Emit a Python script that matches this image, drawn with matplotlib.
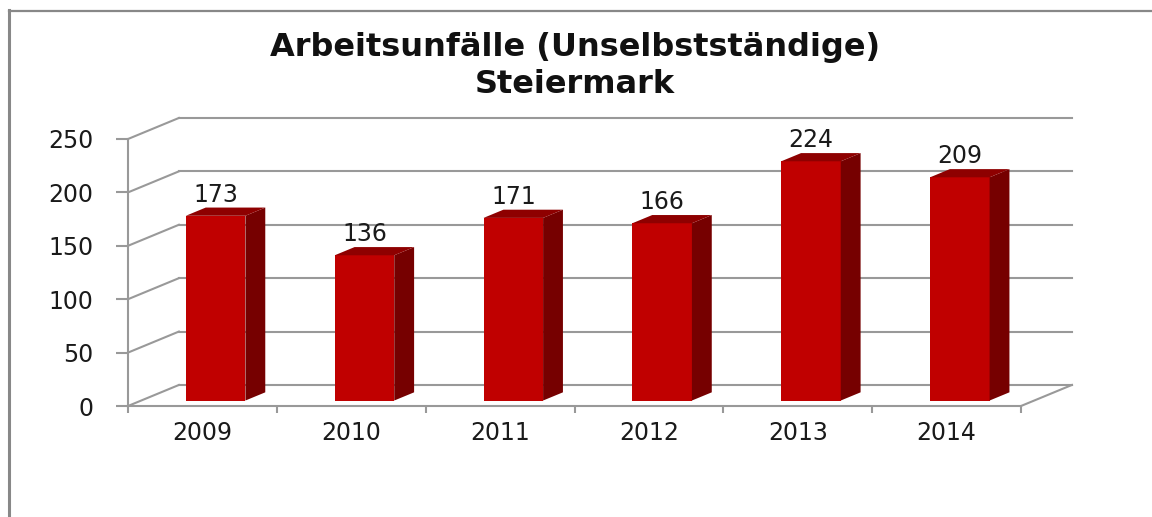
import matplotlib.pyplot as plt
from matplotlib.patches import Polygon
from matplotlib.lines import Line2D

years = ["2009", "2010", "2011", "2012", "2013", "2014"]
values = [173, 136, 171, 166, 224, 209]
yticks = [0, 50, 100, 150, 200, 250]
title = "Arbeitsunfälle (Unselbstständige)\nSteiermark"

# pseudo 3d: depth offset in data units (categories / value)
dx, dy = 0.342, 19.7
t0, t1 = 0.26, 0.65      # bar front / back depth fraction
bw = 0.4

grid_col = "#999999"
front_col = "#C00000"
side_col = "#760000"
top_col = "#8E0000"
txt_col = "#1a1a1a"

W, H = 1152, 517
fig = plt.figure(figsize=(W / 100, H / 100), dpi=100)
ax = fig.add_axes([128 / W, 111 / H, 893 / W, 267 / H])
ax.set_xlim(0, len(years))
ax.set_ylim(0, 250)
ax.patch.set_visible(False)

# walls / floor
n = len(years)
for v in yticks:
    ax.plot([dx, n + dx], [v + dy, v + dy], color=grid_col, lw=1.5, clip_on=False, zorder=1)
    ax.plot([0, dx], [v, v + dy], color=grid_col, lw=1.5, clip_on=False, zorder=1)
ax.plot([n, n + dx], [0, dy], color=grid_col, lw=1.5, clip_on=False, zorder=1)

# bars
xs = [i + 0.5 + t0 * dx for i in range(n)]
ax.bar(xs, values, width=bw, bottom=t0 * dy, color=front_col, zorder=3, clip_on=False)
for x, v in zip(xs, values):
    x0, x1 = x - bw / 2, x + bw / 2
    sx = (t1 - t0) * dx
    sy = (t1 - t0) * dy
    b = t0 * dy
    side = [(x1, b), (x1 + sx, b + sy), (x1 + sx, b + sy + v), (x1, b + v)]
    top = [(x0, b + v), (x1, b + v), (x1 + sx, b + sy + v), (x0 + sx, b + sy + v)]
    ax.add_patch(Polygon(side, closed=True, fc=side_col, ec="none", zorder=3, clip_on=False))
    ax.add_patch(Polygon(top, closed=True, fc=top_col, ec="none", zorder=3, clip_on=False))
    ax.annotate(str(v), (x, v + t1 * dy), xytext=(0, 0.5), textcoords="offset points",
                ha="center", va="bottom", fontsize=17, color=txt_col,
                family="DejaVu Sans", annotation_clip=False)

# axes
for s in ["top", "right"]:
    ax.spines[s].set_visible(False)
for s in ["left", "bottom"]:
    ax.spines[s].set_color(grid_col)
    ax.spines[s].set_linewidth(1.5)
ax.set_yticks(yticks)
ax.tick_params(axis="y", length=9, width=1.5, color=grid_col, pad=16,
               labelsize=17, labelcolor=txt_col)
ax.set_xticks(range(n + 1))
ax.set_xticklabels([])
ax.set_xticks([i + 0.5 for i in range(n)], minor=True)
ax.set_xticklabels(years, minor=True, fontsize=17, color=txt_col, family="DejaVu Sans")
ax.tick_params(axis="x", which="major", length=5, width=1.5, color=grid_col)
ax.tick_params(axis="x", which="minor", length=0, pad=11)

fig.text(575 / W, 1 - 66 / H, title, ha="center", va="center", fontsize=23,
         fontweight="bold", family="DejaVu Sans", linespacing=1.25, color="#111111")

# chart frame
fig.add_artist(Line2D([9 / W, 9 / W], [0, 1 - 10 / H], color="#888888", lw=2.2))
fig.add_artist(Line2D([9 / W, 1], [1 - 11 / H, 1 - 11 / H], color="#888888", lw=1.6))

fig.savefig("out.png", dpi=100)
